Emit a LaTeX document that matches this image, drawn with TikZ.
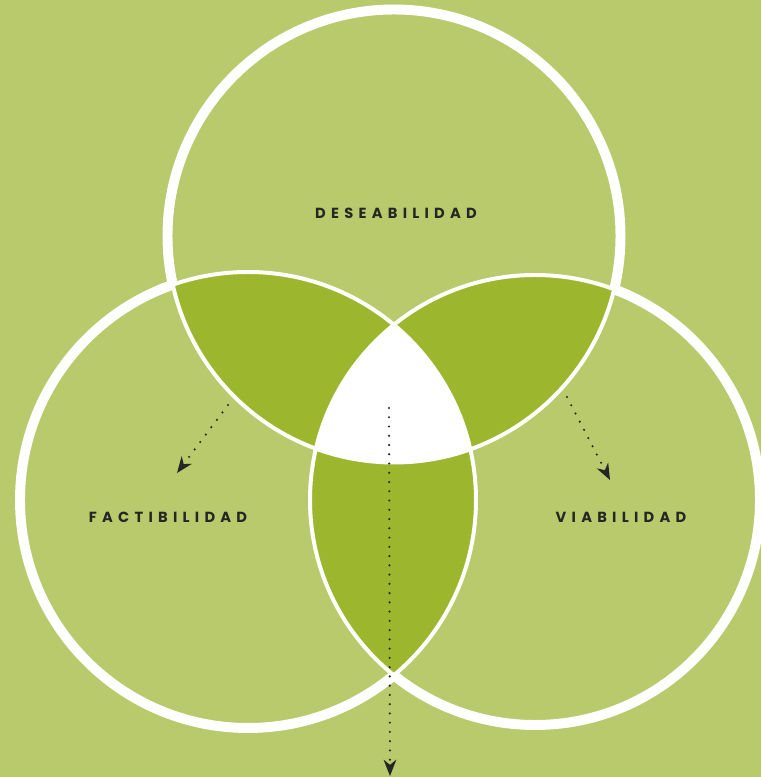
\documentclass[tikz,border=0pt]{standalone}
\usepackage{fontspec}
\setmainfont{Poppins}
\usetikzlibrary{arrows.meta}
\definecolor{bgGreen}{HTML}{B8CA6B}
\definecolor{lensGreen}{HTML}{9CB72E}
\definecolor{inkDark}{HTML}{262626}

\begin{document}
\begin{tikzpicture}[
    x=0.3mm, y=0.3mm,
    lbl/.style={font=\fontsize{12.5}{14}\selectfont\bfseries\addfontfeatures{LetterSpace=36}, text=inkDark, inner sep=0pt},
    thinring/.style={draw=white, line width=3.4pt},
    thickring/.style={draw=white, line width=8.5pt},
    arr/.style={inkDark, line width=2pt, line cap=round, dash pattern=on 0pt off 7.9pt, -{Stealth[length=14pt, width=11pt, inset=4.5pt, line width=0pt]}},
  ]
  \useasboundingbox (0,0) rectangle (761,777);
  \fill[bgGreen] (0,0) rectangle (761,777);
  \def\rDes{226.5}
  \def\rFac{228}
  \def\rVia{225}
  \coordinate (cDes) at (394,541);
  \coordinate (cFac) at (248,277);
  \coordinate (cVia) at (535,277);
  % pairwise overlaps
  \begin{scope}
    \clip (cDes) circle[radius=\rDes];
    \fill[lensGreen] (cFac) circle[radius=\rFac];
    \fill[lensGreen] (cVia) circle[radius=\rVia];
  \end{scope}
  \begin{scope}
    \clip (cFac) circle[radius=\rFac];
    \fill[lensGreen] (cVia) circle[radius=\rVia];
  \end{scope}
  % centre
  \begin{scope}
    \clip (cDes) circle[radius=\rDes];
    \clip (cFac) circle[radius=\rFac];
    \fill[white] (cVia) circle[radius=\rVia];
  \end{scope}
  \draw[thinring] (cDes) circle[radius=\rDes];
  \draw[thinring] (cFac) circle[radius=\rFac];
  \draw[thinring] (cVia) circle[radius=\rVia];
  % thick outer rims
  \foreach \ca/\ra/\cb/\rb/\cc/\rc in {cDes/\rDes/cFac/\rFac/cVia/\rVia, cFac/\rFac/cDes/\rDes/cVia/\rVia, cVia/\rVia/cDes/\rDes/cFac/\rFac}{
    \begin{scope}[even odd rule]
      \clip (-50,-50) rectangle (811,827) (\cb) circle[radius=\rb];
      \clip (-50,-50) rectangle (811,827) (\cc) circle[radius=\rc];
      \draw[thickring] (\ca) circle[radius=\ra];
    \end{scope}
  }
  \node[lbl] (des) at (396,564) {DESEABILIDAD};
  \node[lbl] (fac) at (168,260) {FACTIBILIDAD};
  \node[lbl] (via) at (621,260) {VIABILIDAD};
  \coordinate (fromFac) at (228,372);
  \coordinate (toFac) at (177,304);
  \coordinate (fromVia) at (567,380);
  \coordinate (toVia) at (610,297);
  \coordinate (fromMid) at (389,369);
  \coordinate (toMid) at (390,1);
  \draw[arr] (fromFac) -- (toFac);
  \draw[arr] (fromVia) -- (toVia);
  \draw[arr] (fromMid) -- (toMid);
\end{tikzpicture}
\end{document}
